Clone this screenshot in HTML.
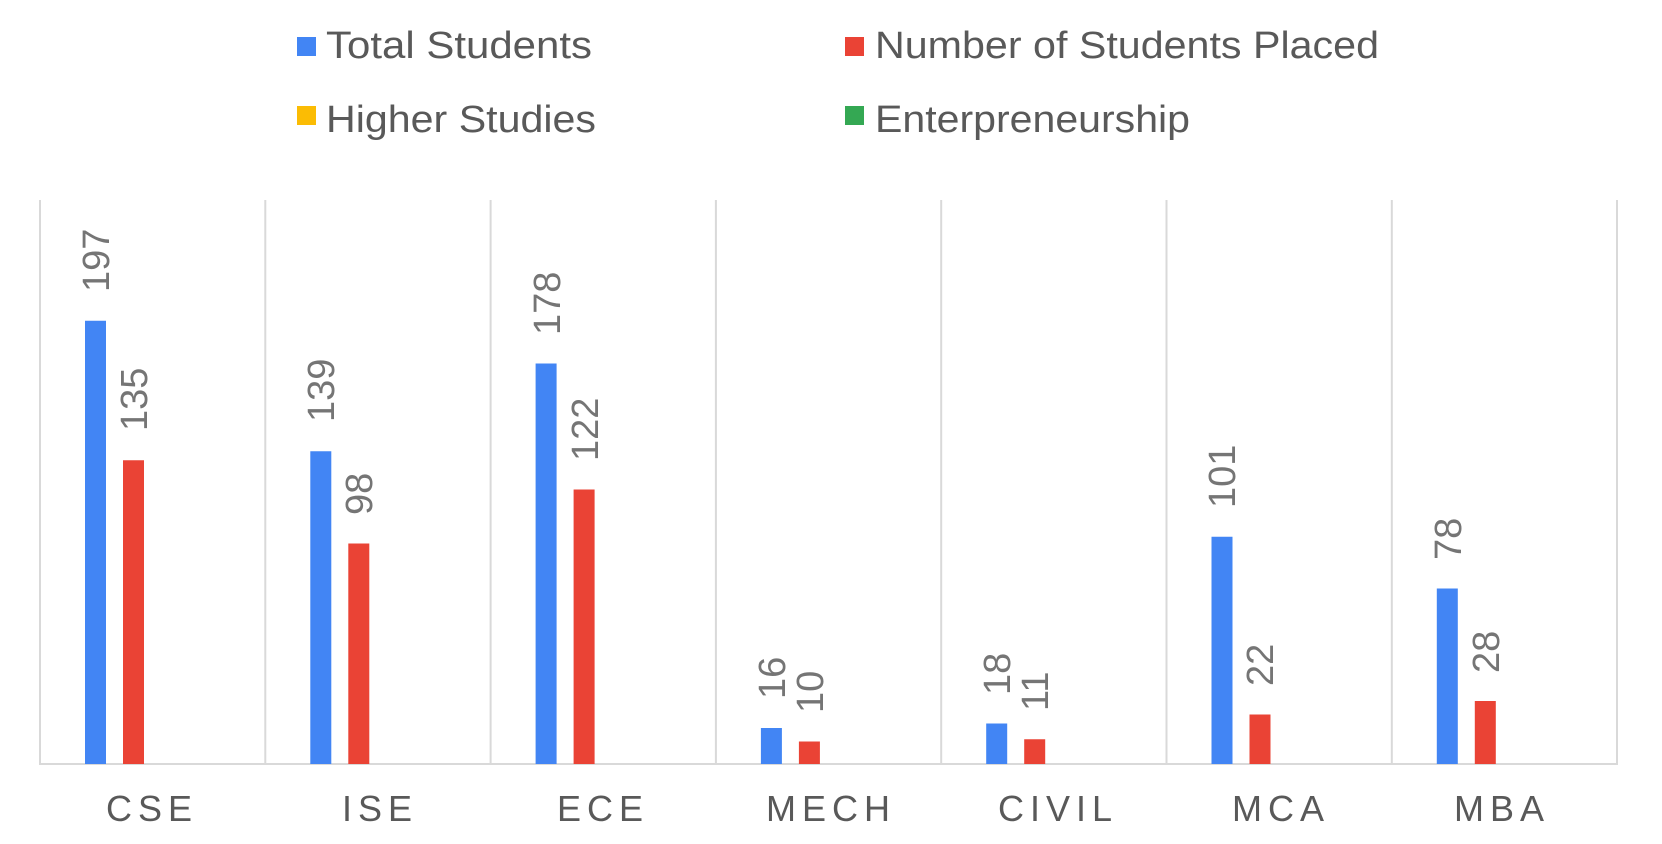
<!DOCTYPE html>
<html><head><meta charset="utf-8"><style>html,body{margin:0;padding:0;background:#fff}svg{display:block}</style></head>
<body>
<svg width="1662" height="844" xmlns="http://www.w3.org/2000/svg" font-family="Liberation Sans, Arial, sans-serif">
<rect width="1662" height="844" fill="#fff"/>
<rect x="297" y="37" width="19" height="19" fill="#4285f4"/>
<text x="326" y="58" font-size="38" fill="#595959" textLength="266" lengthAdjust="spacingAndGlyphs">Total Students</text>
<rect x="845" y="37" width="19" height="19" fill="#ea4335"/>
<text x="875" y="58" font-size="38" fill="#595959" textLength="504" lengthAdjust="spacingAndGlyphs">Number of Students Placed</text>
<rect x="297" y="106" width="19" height="19" fill="#fbbc04"/>
<text x="326" y="132" font-size="38" fill="#595959" textLength="270" lengthAdjust="spacingAndGlyphs">Higher Studies</text>
<rect x="845" y="106" width="19" height="19" fill="#34a853"/>
<text x="875" y="132" font-size="38" fill="#595959" textLength="315" lengthAdjust="spacingAndGlyphs">Enterpreneurship</text>
<g stroke="#d9d9d9" stroke-width="2">
<line x1="40" y1="200" x2="40" y2="764"/>
<line x1="265.3" y1="200" x2="265.3" y2="764"/>
<line x1="490.6" y1="200" x2="490.6" y2="764"/>
<line x1="715.9" y1="200" x2="715.9" y2="764"/>
<line x1="941.2" y1="200" x2="941.2" y2="764"/>
<line x1="1166.5" y1="200" x2="1166.5" y2="764"/>
<line x1="1391.8" y1="200" x2="1391.8" y2="764"/>
<line x1="1617" y1="200" x2="1617" y2="764"/>
<line x1="39" y1="764" x2="1618" y2="764"/>
</g>
<g fill="#4285f4">
<rect x="85" y="320.75" width="21" height="443.25"/>
<rect x="310.3" y="451.25" width="21" height="312.75"/>
<rect x="535.6" y="363.5" width="21" height="400.5"/>
<rect x="760.9" y="728" width="21" height="36"/>
<rect x="986.2" y="723.5" width="21" height="40.5"/>
<rect x="1211.5" y="536.75" width="21" height="227.25"/>
<rect x="1436.8" y="588.5" width="21" height="175.5"/>
</g>
<g fill="#ea4335">
<rect x="123" y="460.25" width="21" height="303.75"/>
<rect x="348.3" y="543.5" width="21" height="220.5"/>
<rect x="573.6" y="489.5" width="21" height="274.5"/>
<rect x="798.9" y="741.5" width="21" height="22.5"/>
<rect x="1024.2" y="739.25" width="21" height="24.75"/>
<rect x="1249.5" y="714.5" width="21" height="49.5"/>
<rect x="1474.8" y="701" width="21" height="63"/>
</g>
<g font-size="38" fill="#757575">
<text transform="translate(109,292) rotate(-90)">197</text>
<text transform="translate(147,431) rotate(-90)">135</text>
<text transform="translate(334,422) rotate(-90)">139</text>
<text transform="translate(372,515) rotate(-90)">98</text>
<text transform="translate(560,335) rotate(-90)">178</text>
<text transform="translate(598,461) rotate(-90)">122</text>
<text transform="translate(785,699) rotate(-90)">16</text>
<text transform="translate(823,713) rotate(-90)">10</text>
<text transform="translate(1010,695) rotate(-90)">18</text>
<text transform="translate(1048,711) rotate(-90)">11</text>
<text transform="translate(1235,508) rotate(-90)">101</text>
<text transform="translate(1273,686) rotate(-90)">22</text>
<text transform="translate(1461,560) rotate(-90)">78</text>
<text transform="translate(1499,673) rotate(-90)">28</text>
</g>
<g font-size="36" fill="#595959" letter-spacing="6">
<text x="106" y="821">CSE</text>
<text x="342" y="821">ISE</text>
<text x="557" y="821">ECE</text>
<text x="766" y="821">MECH</text>
<text x="998" y="821">CIVIL</text>
<text x="1232" y="821">MCA</text>
<text x="1454" y="821">MBA</text>
</g>
</svg>
</body></html>
